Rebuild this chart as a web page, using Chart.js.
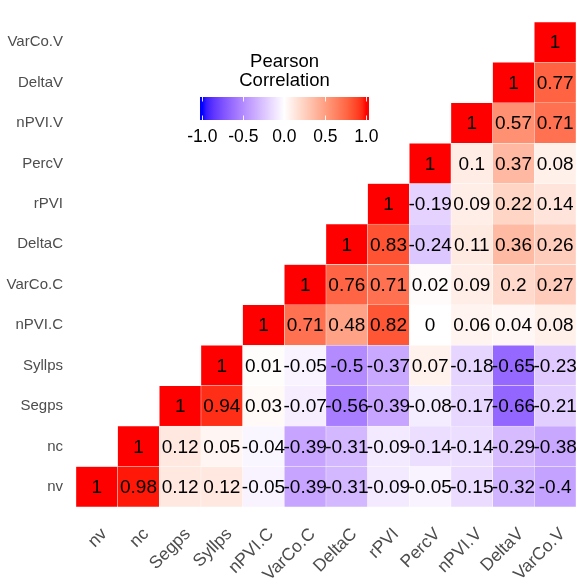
<!DOCTYPE html>
<html><head><meta charset="utf-8">
<script src="https://cdn.jsdelivr.net/npm/chart.js@4"></script>
<style>html,body{margin:0;padding:0;background:#fff}#wrap{width:579px;height:587px;position:relative}</style>
</head><body><div id="wrap"><canvas id="c" width="579" height="587"></canvas></div>
<script>
const variables = ['nv','nc','Segps','Syllps','nPVI.C','VarCo.C','DeltaC','rPVI','PercV','nPVI.V','DeltaV','VarCo.V'];
// each row i holds correlations of variables[i] with variables[i..11]
const rowNv     = [1, 0.98, 0.12, 0.12, -0.05, -0.39, -0.31, -0.09, -0.05, -0.15, -0.32, -0.4];
const rowNc     = [1, 0.12, 0.05, -0.04, -0.39, -0.31, -0.09, -0.14, -0.14, -0.29, -0.38];
const rowSegps  = [1, 0.94, 0.03, -0.07, -0.56, -0.39, -0.08, -0.17, -0.66, -0.21];
const rowSyllps = [1, 0.01, -0.05, -0.5, -0.37, 0.07, -0.18, -0.65, -0.23];
const rowNPVIC  = [1, 0.71, 0.48, 0.82, 0, 0.06, 0.04, 0.08];
const rowVarCoC = [1, 0.76, 0.71, 0.02, 0.09, 0.2, 0.27];
const rowDeltaC = [1, 0.83, -0.24, 0.11, 0.36, 0.26];
const rowRPVI   = [1, -0.19, 0.09, 0.22, 0.14];
const rowPercV  = [1, 0.1, 0.37, 0.08];
const rowNPVIV  = [1, 0.57, 0.71];
const rowDeltaV = [1, 0.77];
const rowVarCoV = [1];
const rows = [rowNv,rowNc,rowSegps,rowSyllps,rowNPVIC,rowVarCoC,rowDeltaC,rowRPVI,rowPercV,rowNPVIV,rowDeltaV,rowVarCoV];
const legendTicks = [-1.0, -0.5, 0.0, 0.5, 1.0];
const legendTitle = ['Pearson', 'Correlation'];

// ---- Lab colour ramp (like ggplot2 scale_fill_gradient2) ----
function toLin(c){c/=255;return c<=0.04045?c/12.92:Math.pow((c+0.055)/1.055,2.4);}
function fromLin(c){const v=c<=0.0031308?12.92*c:1.055*Math.pow(c,1/2.4)-0.055;return Math.max(0,Math.min(255,Math.round(v*255)));}
const Xn=0.95047,Yn=1,Zn=1.08883;
function f(t){return t>0.008856?Math.cbrt(t):(7.787*t+16/116);}
function fi(t){return t>0.206893?t*t*t:(t-16/116)/7.787;}
function rgb2lab([r,g,b]){r=toLin(r);g=toLin(g);b=toLin(b);
  const X=0.4124564*r+0.3575761*g+0.1804375*b,Y=0.2126729*r+0.7151522*g+0.0721750*b,Z=0.0193339*r+0.1191920*g+0.9503041*b;
  const fx=f(X/Xn),fy=f(Y/Yn),fz=f(Z/Zn);return [116*fy-16,500*(fx-fy),200*(fy-fz)];}
function lab2rgb([L,a,b]){const fy=(L+16)/116,fx=fy+a/500,fz=fy-b/200;
  const X=Xn*fi(fx),Y=Yn*fi(fy),Z=Zn*fi(fz);
  const r=3.2404542*X-1.5371385*Y-0.4985314*Z,g=-0.9692660*X+1.8760108*Y+0.0415560*Z,bb=0.0556434*X-0.2040259*Y+1.0572252*Z;
  return [fromLin(r),fromLin(g),fromLin(bb)];}
const LOW=rgb2lab([0,0,255]),MID=rgb2lab([255,255,255]),HIGH=rgb2lab([255,0,0]);
function colorFor(v){v=Math.max(-1,Math.min(1,v));const end=v<0?LOW:HIGH,t=Math.abs(v);
  const lab=[0,1,2].map(k=>MID[k]+(end[k]-MID[k])*t);const c=lab2rgb(lab);return `rgb(${c[0]},${c[1]},${c[2]})`;}

const FONT='"Liberation Sans", Arial, Helvetica, sans-serif';

const datasets = rows.map((vals,i)=>({
  label: variables[i],
  data: variables.map((_,j)=> j>=i ? [i, i+1] : null),
  backgroundColor: variables.map((_,j)=> j>=i ? colorFor(vals[j-i]) : 'rgba(0,0,0,0)'),
  borderColor: 'rgba(255,255,255,0.55)',
  borderWidth: 0.5,
  borderSkipped: false,
  barPercentage: 1,
  categoryPercentage: 1,
  grouped: false
}));

const cellLabels = {
  id:'cellLabels',
  afterDatasetsDraw(chart){
    const {ctx, scales:{x,y}} = chart;
    ctx.save();
    ctx.font = '19px '+FONT; ctx.fillStyle='#000'; ctx.textAlign='center'; ctx.textBaseline='middle';
    rows.forEach((vals,i)=>vals.forEach((v,k)=>{
      const j=i+k;
      ctx.fillText(String(v), x.getPixelForValue(j), y.getPixelForValue(i+0.5)+1);
    }));
    ctx.restore();
  }
};

const colorLegend = {
  id:'colorLegend',
  afterDraw(chart){
    const ctx=chart.ctx;
    const x0=200, x1=369, y0=97, y1=120, vMinX=202.3, vMaxX=366.3;
    const px=v=>vMinX+(v+1)/2*(vMaxX-vMinX);
    ctx.save();
    const g=ctx.createLinearGradient(vMinX,0,vMaxX,0);
    for(let s=0;s<=40;s++){const v=-1+s/20;g.addColorStop(s/40,colorFor(v));}
    ctx.fillStyle=g; ctx.fillRect(x0,y0,x1-x0,y1-y0);
    ctx.strokeStyle='rgba(255,255,255,0.9)'; ctx.lineWidth=1;
    legendTicks.forEach(t=>{const xx=Math.round(px(t))+0.5;
      ctx.beginPath();ctx.moveTo(xx,y0);ctx.lineTo(xx,y0+4.5);ctx.moveTo(xx,y1-4.5);ctx.lineTo(xx,y1);ctx.stroke();});
    ctx.fillStyle='#000'; ctx.textAlign='center'; ctx.textBaseline='alphabetic';
    ctx.font='17.5px '+FONT;
    legendTicks.forEach(t=>ctx.fillText(t.toFixed(1), px(t), 142));
    ctx.font='18.5px '+FONT;
    ctx.fillText(legendTitle[0], (x0+x1)/2, 67);
    ctx.fillText(legendTitle[1], (x0+x1)/2, 86);
    ctx.restore();
  }
};

new Chart(document.getElementById('c'), {
  type:'bar',
  data:{labels:variables, datasets},
  options:{
    responsive:false, animation:false,
    layout:{padding:{top:4.5,right:0,left:0,bottom:0}},
    plugins:{legend:{display:false}, tooltip:{enabled:false}},
    scales:{
      x:{
        grid:{display:false}, border:{display:false},
        ticks:{color:'#4D4D4D', font:{family:FONT,size:17.5}, minRotation:45, maxRotation:45, padding:9, labelOffset:7.5, autoSkip:false},
        afterFit(s){s.height=80;}
      },
      y:{
        min:0, max:12,
        grid:{display:false, drawTicks:false}, border:{display:false},
        afterBuildTicks(s){s.ticks=variables.map((_,i)=>({value:i+0.5}));},
        ticks:{color:'#4D4D4D', font:{family:FONT,size:15}, padding:13, autoSkip:false,
          callback:(v)=>variables[Math.floor(v)]},
        afterFit(s){s.width=76;}
      }
    }
  },
  plugins:[cellLabels,colorLegend]
});
</script></body></html>
